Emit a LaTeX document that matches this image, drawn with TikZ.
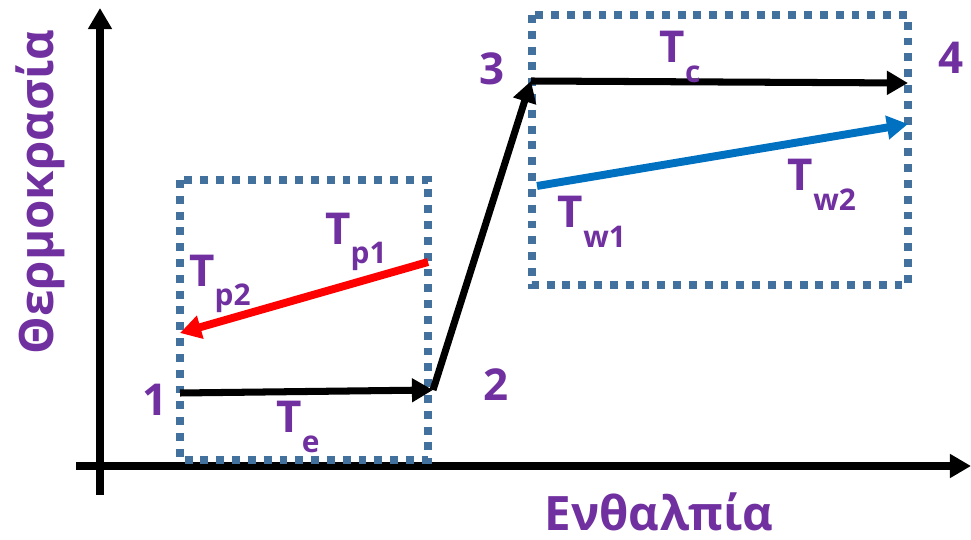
\documentclass[tikz,border=0pt]{standalone}
\usepackage{fontspec}
\setmainfont{Open Sans}
\usetikzlibrary{arrows.meta}
\definecolor{lblpurple}{HTML}{7030A0}
\definecolor{boxblue}{HTML}{41719C}
\definecolor{hotred}{HTML}{FF0000}
\definecolor{coolblue}{HTML}{0070C0}
\newcommand{\tsub}[1]{T\raisebox{-0.45em}{\fontsize{17}{17}\selectfont #1}}

\begin{document}
\begin{tikzpicture}[x=0.02cm,y=-0.02cm,>={Triangle[length=12pt,width=13pt]},
  lbl/.style={text=lblpurple,font=\bfseries\fontsize{25}{25}\selectfont},
  axislbl/.style={text=lblpurple,inner sep=0pt,font=\bfseries\fontsize{27}{27}\selectfont},
  dotbox/.style={boxblue,line width=4.5pt,dash pattern=on 4.5pt off 4.5pt},
  proc/.style={->,line width=4pt}]
  \useasboundingbox (0,0) rectangle (971,540);
  % axes
  \coordinate (ybot) at (100,495);
  \coordinate (ytop) at (100,8);
  \coordinate (xleft) at (76,466);
  \coordinate (xright) at (971,466);
  \draw[->,line width=4pt] (ybot)--(ytop);
  \draw[->,line width=4pt] (xleft)--(xright);
  \node[axislbl,rotate=90] (temp) at (40,192){Θερμοκρασία};
  \node[axislbl,anchor=base] (enth) at (659,531){Ενθαλπία};
  % dotted boxes
  \draw[dotbox] (180,180) rectangle (428,460);
  \draw[dotbox] (532,15) rectangle (908,285);
  % cycle points
  \coordinate (p1) at (180,393);
  \coordinate (p2) at (433,390);
  \coordinate (p3) at (531,81);
  \coordinate (p4) at (908,83);
  \draw[proc] (p1)--(p2);
  \draw[proc] (p2)--(p3);
  \draw[proc] (p3)--(p4);
  % secondary fluids
  \coordinate (hot1) at (428,262);
  \coordinate (hot2) at (180,333);
  \coordinate (cool1) at (537,186);
  \coordinate (cool2) at (908,124);
  \draw[->,hotred,line width=4.5pt] (hot1)--(hot2);
  \draw[->,coolblue,line width=4.5pt] (cool1)--(cool2);
  % labels
  \node[lbl] (n1) at (155,400){1};
  \node[lbl] (n2) at (496,385){2};
  \node[lbl] (n3) at (492,69){3};
  \node[lbl] (n4) at (951,58){4};
  \node[lbl] (tc) at (680,57){\tsub{c}};
  \node[lbl] (te) at (298,427){\tsub{e}};
  \node[lbl] (tp1) at (356,242){\tsub{p1}};
  \node[lbl] (tp2) at (220,284){\tsub{p2}};
  \node[lbl] (tw1) at (592,222){\tsub{w1}};
  \node[lbl] (tw2) at (822,185){\tsub{w2}};
\end{tikzpicture}
\end{document}
